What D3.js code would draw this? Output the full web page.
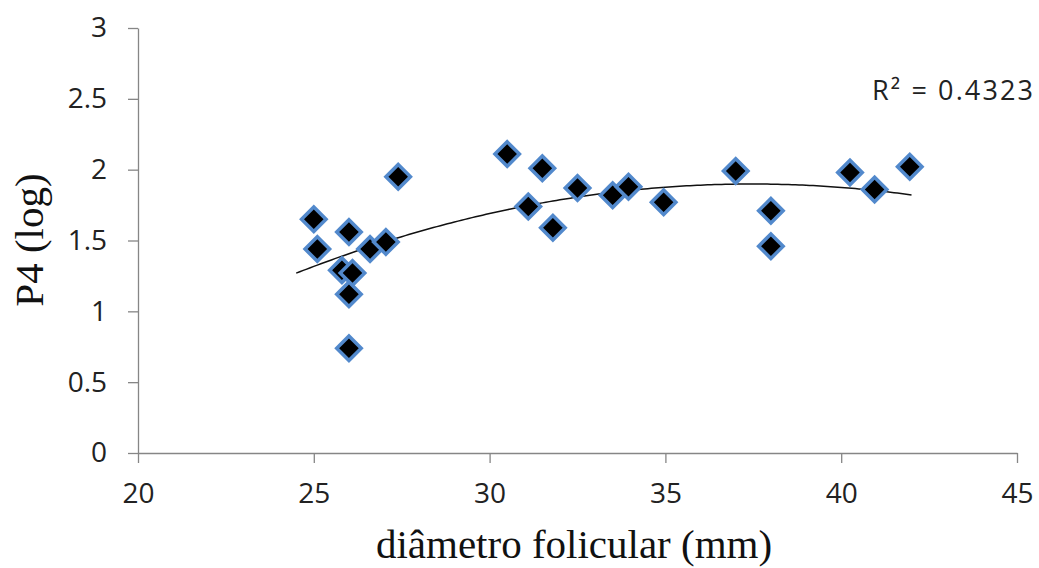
<!DOCTYPE html>
<html>
<head>
<meta charset="utf-8">
<script src="https://cdn.jsdelivr.net/npm/d3@7"></script>
<style>
  body { margin: 0; background: #fff; }
  .tick text { font-family: "Open Sans", sans-serif; font-size: 28px; fill: #222; }
  .axis path, .axis line { stroke: #868686; stroke-width: 1.3px; }
  .title { font-family: "Liberation Serif", "DejaVu Serif", serif; font-size: 41px; fill: #111; }
</style>
</head>
<body>
<svg id="chart"></svg>
<script>
// diameter (mm) and P4 (log)
const diametro = [25.0, 25.1, 26.0, 25.8, 26.1, 26.0, 26.0, 26.6, 27.05, 27.4,
                  30.5, 31.1, 31.5, 31.8, 32.5, 33.5, 33.95, 34.95, 37.0, 38.0,
                  38.0, 40.25, 40.95, 41.95];
const p4log = [1.65, 1.44, 1.56, 1.29, 1.27, 1.12, 0.74, 1.44, 1.49, 1.95,
               2.11, 1.74, 2.01, 1.59, 1.87, 1.82, 1.88, 1.77, 1.99, 1.71,
               1.46, 1.98, 1.86, 2.02];
const xTicks = [20, 25, 30, 35, 40, 45];
const yTicks = [0, 0.5, 1, 1.5, 2, 2.5, 3];
const r2Label = "R\u00b2 = 0.4323";

const W = 1039, H = 568;
const margin = { top: 28, right: 22, bottom: 115, left: 138 };
const width = W - margin.left - margin.right;
const height = H - margin.top - margin.bottom;

const svg = d3.select("#chart").attr("width", W).attr("height", H);
const main = svg.append("g").attr("transform", `translate(${margin.left},${margin.top})`);

const x = d3.scaleLinear().domain([20, 45]).range([0, width]);
const y = d3.scaleLinear().domain([0, 3]).range([height, 0]);

main.append("g")
  .attr("class", "axis")
  .attr("transform", `translate(0,${height})`)
  .call(d3.axisBottom(x).tickValues(xTicks).tickSize(10).tickSizeOuter(0).tickPadding(20));

main.append("g")
  .attr("class", "axis")
  .call(d3.axisLeft(y).tickValues(yTicks).tickSize(10).tickSizeOuter(0).tickPadding(21)
    .tickFormat(d3.format("")));

// quadratic least squares fit (same as the polynomial trendline)
const pts = diametro.map((d, i) => [d, p4log[i]]);
function polyFit(data) {
  let s = [0, 0, 0, 0, 0], t = [0, 0, 0];
  data.forEach(([a, b]) => {
    for (let k = 0; k < 5; k++) s[k] += Math.pow(a, k);
    for (let k = 0; k < 3; k++) t[k] += b * Math.pow(a, k);
  });
  const M = [[s[0], s[1], s[2], t[0]], [s[1], s[2], s[3], t[1]], [s[2], s[3], s[4], t[2]]];
  for (let i = 0; i < 3; i++) {
    for (let j = i + 1; j < 3; j++) {
      const f = M[j][i] / M[i][i];
      for (let k = i; k < 4; k++) M[j][k] -= f * M[i][k];
    }
  }
  const c = [0, 0, 0];
  for (let i = 2; i >= 0; i--) {
    let v = M[i][3];
    for (let k = i + 1; k < 3; k++) v -= M[i][k] * c[k];
    c[i] = v / M[i][i];
  }
  return c;
}
const coef = polyFit(pts);
const trend = d3.range(24.5, 42.01, 0.1).map(v => [v, coef[0] + coef[1] * v + coef[2] * v * v]);

main.append("path")
  .datum(trend)
  .attr("fill", "none")
  .attr("stroke", "#111")
  .attr("stroke-width", 1.5)
  .attr("d", d3.line().x(d => x(d[0])).y(d => y(d[1])));

main.selectAll(".pt")
  .data(pts)
  .join("path")
  .attr("class", "pt")
  .attr("d", d3.symbol(d3.symbolSquare, 300))
  .attr("transform", d => `translate(${x(d[0])},${y(d[1])}) rotate(45)`)
  .attr("fill", "#000")
  .attr("stroke", "#5289cc")
  .attr("stroke-width", 3.5);

svg.append("text")
  .attr("x", 872)
  .attr("y", 100)
  .attr("textLength", 161)
  .attr("lengthAdjust", "spacing")
  .style("font-family", "'Open Sans', sans-serif")
  .style("font-size", "27px")
  .attr("fill", "#222")
  .text(r2Label);

svg.append("text")
  .attr("class", "title")
  .attr("x", 574)
  .attr("y", 558)
  .attr("text-anchor", "middle")
  .text("diâmetro folicular (mm)");

svg.append("text")
  .attr("class", "title")
  .attr("transform", `translate(43,240) rotate(-90)`)
  .attr("text-anchor", "middle")
  .text("P4 (log)");
</script>
</body>
</html>
